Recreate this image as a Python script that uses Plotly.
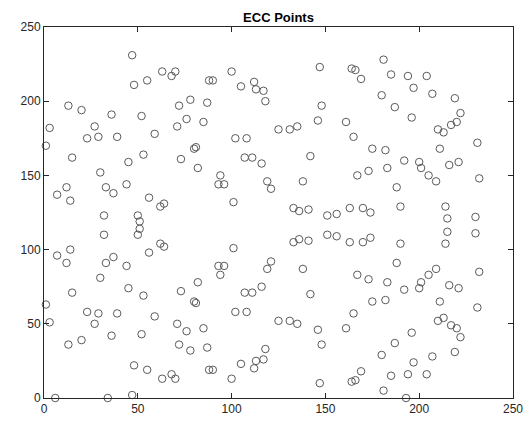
import plotly.graph_objects as go

# Points (x, y)
ecc_x = [1, 1, 3, 3, 6, 7, 7, 12, 12, 13, 13, 14, 14, 15, 15, 20, 20, 23, 23, 27, 27,
         29, 29, 30, 30, 32, 32, 33, 33, 34, 36, 36, 37, 37, 39, 39, 44, 44, 45, 45,
         47, 47, 48, 48, 50, 50, 51, 51, 52, 52, 53, 53, 55, 55, 56, 56, 59, 59,
         62, 62, 63, 63, 64, 64, 68, 68, 70, 70, 71, 71, 72, 72, 73, 73, 76, 76,
         78, 78, 80, 80, 81, 81, 82, 82, 85, 85, 87, 87, 88, 88, 90, 90, 93, 93,
         94, 94, 96, 96, 100, 100, 101, 101, 102, 102, 105, 105, 107, 107, 108, 108,
         111, 111, 112, 112, 113, 113, 116, 116, 117, 117, 118, 118, 119, 119,
         121, 121, 125, 125, 131, 131, 133, 133, 135, 135, 136, 136, 138, 138,
         141, 141, 142, 142, 146, 146, 147, 147, 148, 148, 151, 151, 156, 156,
         161, 161, 163, 163, 164, 164, 165, 165, 166, 166, 167, 167, 169, 169,
         170, 170, 173, 173, 174, 174, 175, 175, 180, 180, 181, 181, 182, 182,
         183, 183, 185, 185, 187, 187, 188, 188, 190, 190, 192, 192, 193,
         194, 194, 196, 196, 197, 197, 200, 200, 201, 201, 204, 204, 205, 205,
         207, 207, 209, 209, 210, 210, 211, 211, 213, 213, 214, 214, 215, 215,
         216, 216, 217, 217, 219, 219, 220, 220, 221, 221, 222, 222, 230, 230,
         231, 231, 232, 232]
ecc_y = [170, 63, 182, 51, 0, 137, 96, 142, 91, 197, 36, 133, 100, 162, 71, 194, 39, 175, 58, 183, 50,
         176, 57, 152, 81, 123, 110, 142, 91, 0, 191, 42, 138, 95, 176, 57, 144, 89, 159, 74,
         231, 2, 211, 22, 123, 110, 119, 114, 190, 43, 164, 69, 214, 19, 135, 98, 178, 55,
         129, 104, 220, 13, 131, 102, 217, 16, 220, 13, 183, 50, 197, 36, 161, 72, 188, 45,
         201, 32, 168, 65, 169, 64, 155, 78, 186, 47, 199, 34, 214, 19, 214, 19, 144, 89,
         150, 83, 144, 89, 220, 13, 132, 101, 175, 58, 210, 23, 162, 71, 175, 58,
         162, 71, 213, 20, 208, 25, 158, 75, 207, 26, 200, 33, 146, 87,
         141, 92, 181, 52, 181, 52, 128, 105, 183, 50, 126, 107, 146, 87,
         127, 106, 163, 70, 187, 46, 223, 10, 197, 36, 123, 110, 124, 109,
         186, 47, 128, 105, 222, 11, 176, 57, 221, 12, 150, 83, 215, 18,
         128, 105, 153, 80, 125, 108, 168, 65, 204, 29, 228, 5, 167, 66,
         155, 78, 218, 15, 196, 37, 142, 91, 129, 104, 160, 73, 0,
         217, 16, 189, 44, 209, 24, 159, 74, 155, 78, 217, 16, 150, 83,
         205, 28, 146, 87, 181, 52, 168, 65, 179, 54, 129, 104, 121, 112,
         157, 76, 184, 49, 202, 31, 186, 47, 159, 74, 192, 41, 122, 111,
         172, 61, 148, 85]

title_text = "ECC Points"
x_ticks = [0, 50, 100, 150, 200, 250]
y_ticks = [0, 50, 100, 150, 200, 250]

axis_color = "#262626"
font_family = "Liberation Sans, Arial, Helvetica, sans-serif"

fig = go.Figure(
    go.Scatter(
        x=ecc_x,
        y=ecc_y,
        mode="markers",
        marker=dict(symbol="circle-open", size=7.5, color="#5a5a5a",
                    line=dict(width=1, color="#5a5a5a")),
        cliponaxis=False,
        hoverinfo="x+y",
    )
)

axis_common = dict(
    showgrid=False,
    zeroline=False,
    showline=True,
    linecolor=axis_color,
    linewidth=1,
    mirror="ticks",
    ticks="inside",
    ticklen=5,
    tickwidth=1,
    tickcolor=axis_color,
    automargin=False,
    tickfont=dict(family=font_family, size=12, color=axis_color),
)

fig.update_xaxes(range=[0, 250], tickvals=x_ticks, ticktext=[str(v) for v in x_ticks], **axis_common)
fig.update_yaxes(range=[0, 250], tickvals=y_ticks, ticktext=[str(v) for v in y_ticks], **axis_common)

fig.update_layout(
    width=531,
    height=421,
    margin=dict(l=44, r=18, t=27, b=23, pad=0),
    paper_bgcolor="white",
    plot_bgcolor="white",
    showlegend=False,
    title=dict(
        text="<b>" + title_text + "</b>",
        x=(44 + 513) / 2 / 531,
        xanchor="center",
        y=1 - 17 / 421,
        yanchor="middle",
        font=dict(family=font_family, size=13, color="black"),
    ),
    font=dict(family=font_family),
)

fig.write_html(
    "out.html",
    config={"displayModeBar": False, "responsive": False},
    post_script="document.body.style.margin='0';document.body.style.overflow='hidden';",
)
